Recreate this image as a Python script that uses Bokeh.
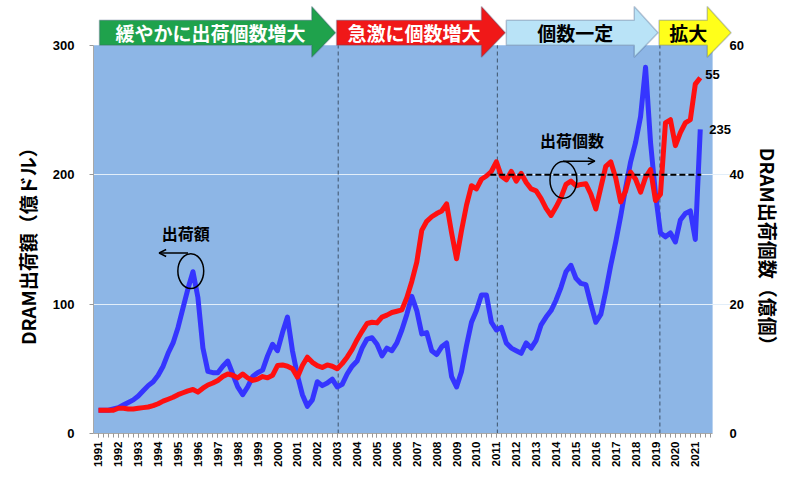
import math
from bokeh.plotting import figure
from bokeh.models import (Range1d, LinearAxis, FixedTicker, Label, Arrow, OpenHead,
                          PolyAnnotation, BoxAnnotation, ColumnDataSource)
from bokeh.embed import file_html
from bokeh.resources import INLINE

# ---------------- data ----------------
start_year = 1991
years = list(range(1991, 2022))

# DRAM出荷額 (億ドル), quarterly from 1991Q1
value_usd = [
    18, 18, 18, 19,      # 1991
    20, 22, 24, 26,      # 1992
    29, 33, 37, 40,      # 1993
    45, 52, 62, 70,      # 1994
    82, 97, 112, 125,    # 1995
    105, 66, 48, 47,     # 1996
    47, 52, 56, 46,      # 1997
    36, 30, 36, 44,      # 1998
    47, 49, 60, 69,      # 1999
    64, 78, 90, 64,      # 2000
    45, 30, 21, 26,      # 2001
    40, 37, 39, 42,      # 2002
    36, 38, 46, 52,      # 2003
    56, 66, 73, 74,      # 2004
    69, 60, 66, 64,      # 2005
    70, 80, 92, 106,     # 2006
    95, 77, 78, 64,      # 2007
    61, 67, 70, 44,      # 2008
    36, 48, 68, 86,      # 2009
    95, 107, 107, 86,    # 2010
    80, 82, 70, 66,      # 2011
    64, 62, 70, 66,      # 2012
    72, 84, 90, 95,      # 2013
    103, 113, 125, 130,  # 2014
    120, 116, 115, 100,  # 2015
    86, 92, 110, 130,    # 2016
    148, 168, 190, 210,  # 2017
    225, 245, 283, 225,  # 2018
    185, 155, 152, 155,  # 2019
    148, 165, 170, 172,  # 2020
    150, 235,            # 2021
]

# DRAM出荷個数 (億個), quarterly from 1991Q1
units = [
    3.6, 3.6, 3.6, 3.6,      # 1991
    3.9, 3.9, 3.8, 3.8,      # 1992
    3.9, 4.0, 4.1, 4.3,      # 1993
    4.6, 5.0, 5.3, 5.6,      # 1994
    6.0, 6.3, 6.6, 6.8,      # 1995
    6.4, 7.0, 7.5, 7.8,      # 1996
    8.2, 8.8, 9.2, 9.0,      # 1997
    8.6, 9.2, 8.6, 8.2,      # 1998
    8.4, 8.8, 8.6, 9.0,      # 1999
    10.5, 10.6, 10.4, 10.0,  # 2000
    8.7, 10.5, 11.8, 11.0,   # 2001
    10.5, 10.2, 10.6, 10.4,  # 2002
    10.0, 10.8, 11.8, 13.0,  # 2003
    14.5, 15.8, 17.0, 17.2,  # 2004
    17.1, 18.0, 18.3, 18.7,  # 2005
    18.9, 19.1, 21.0, 23.5,  # 2006
    26.5, 31.4, 32.8, 33.5,  # 2007
    34.0, 34.4, 35.5, 31.0,  # 2008
    27.0, 31.4, 35.3, 38.3,  # 2009
    37.8, 39.3, 39.8, 40.5,  # 2010
    42.0, 39.8, 39.2, 40.5,  # 2011
    39.0, 40.2, 38.8, 37.8,  # 2012
    37.5, 36.3, 34.8, 33.7,  # 2013
    35.0, 36.5, 38.5, 39.0,  # 2014
    38.3, 38.5, 38.6, 37.0,  # 2015
    34.7, 38.0, 41.3, 42.0,  # 2016
    39.5, 35.8, 37.5, 40.4,  # 2017
    39.3, 37.3, 39.6, 40.8,  # 2018
    36.0, 37.0, 48.0, 48.5,  # 2019
    44.5, 46.5, 48.0, 48.5,  # 2020
    54.0, 55.0,              # 2021
]

left_ticks = [0, 100, 200, 300]
right_ticks = [0, 20, 40, 60]
left_max, right_max = 300, 60

phase_names = ["緩やかに出荷個数増大", "急激に個数増大", "個数一定", "拡大"]
phase_start = [1991.05, 2002.97, 2011.50, 2019.18]
phase_tip = [2002.92, 2011.45, 2019.13, 2022.80]
phase_fill = ["#1FA24C", "#F01818", "#B9E3F7", "#FFFF1A"]
phase_text_color = ["white", "white", "black", "black"]
phase_dividers = [2003.05, 2011.05, 2019.22]
flat_level = 40  # 億個

# ---------------- figure ----------------
xq = [start_year + i / 4 for i in range(len(value_usd))]
src = ColumnDataSource(dict(x=xq, v=value_usd, u=units))

x_lo, x_blue_hi, x_hi = 1990.75, 2021.87, 2022.87
y_hi = 333.1
ratio = left_max / right_max

p = figure(width=784, height=470, output_backend="svg", toolbar_location=None,
           x_range=Range1d(x_lo, x_hi), y_range=Range1d(0, y_hi),
           min_border_left=93, min_border_right=47, min_border_top=2, min_border_bottom=35)
p.background_fill_color = "white"
p.border_fill_color = "white"
p.outline_line_color = None
p.extra_y_ranges = {"right": Range1d(0, y_hi / ratio)}

# blue plot area
p.add_layout(BoxAnnotation(left=x_lo, right=x_blue_hi, bottom=0, top=left_max,
                           fill_color="#8DB6E6", fill_alpha=1.0, line_color=None,
                           level="image"))

p.xgrid.visible = False
p.ygrid.ticker = FixedTicker(ticks=[100, 200])
p.ygrid.grid_line_color = "#E2EEF9"
p.ygrid.grid_line_width = 1

tick_font = "Liberation Sans"
SP = "\u3000"

# left axis
ya = p.yaxis[0]
ya.ticker = FixedTicker(ticks=left_ticks)
ya.bounds = (0, left_max)
ya.axis_label = "DRAM出荷額（億ドル）" + SP * 3
ya.axis_label_text_font = "Noto Sans CJK JP"
ya.axis_label_text_font_style = "bold"
ya.axis_label_text_font_size = "19px"
ya.axis_label_text_color = "black"
ya.axis_label_standoff = 9
ya.major_label_text_font = tick_font
ya.major_label_text_font_style = "bold"
ya.major_label_text_font_size = "13px"
ya.major_label_text_color = "black"
ya.major_label_standoff = 15
ya.major_tick_out = 4
ya.major_tick_in = 0
ya.minor_tick_out = 0
ya.minor_tick_in = 0
ya.major_tick_line_color = "#999999"
ya.axis_line_color = "#A8A8A8"

# right axis
ra = LinearAxis(y_range_name="right", ticker=FixedTicker(ticks=right_ticks))
ra.bounds = (0, right_max)
ra.axis_label = SP * 3 + "\u2002" + "DRAM出荷個数（億個）"
ra.axis_label_text_font = "Noto Sans CJK JP"
ra.axis_label_text_font_style = "bold"
ra.axis_label_text_font_size = "19px"
ra.axis_label_text_color = "black"
ra.axis_label_standoff = 8
ra.major_label_text_font = tick_font
ra.major_label_text_font_style = "bold"
ra.major_label_text_font_size = "13px"
ra.major_label_text_color = "black"
ra.major_label_standoff = -3
ra.major_tick_out = 0
ra.major_tick_in = 0
ra.minor_tick_out = 0
ra.minor_tick_in = 0
ra.axis_line_color = None
p.add_layout(ra, "right")

# bottom axis
xa = p.xaxis[0]
quarters = [y + q / 4 for y in years for q in range(4)]
xa.ticker = FixedTicker(ticks=years, minor_ticks=quarters)
xa.bounds = (x_lo, x_blue_hi)
xa.major_label_orientation = math.pi / 2
xa.major_label_text_font = tick_font
xa.major_label_text_font_style = "bold"
xa.major_label_text_font_size = "11.5px"
xa.major_label_text_color = "black"
xa.major_label_standoff = 4
xa.major_tick_out = 4
xa.major_tick_in = 0
xa.minor_tick_out = 4
xa.minor_tick_in = 0
xa.major_tick_line_color = "#999999"
xa.minor_tick_line_color = "#999999"
xa.axis_line_color = "#A8A8A8"

# phase dividers
p.segment(x0=phase_dividers, y0=[0] * len(phase_dividers), x1=phase_dividers,
          y1=[left_max] * len(phase_dividers), line_color="#3E536B", line_dash="4 3",
          line_width=1)

# data lines
p.line("x", "v", source=src, line_color="#3535FF", line_width=5, line_join="round")
p.line("x", "u", source=src, y_range_name="right", line_color="#FF1010", line_width=5,
       line_join="round")

# flat level dashed line
p.line(x=[2010.7, 2021.3], y=[flat_level, flat_level], y_range_name="right",
       line_color="black", line_width=2, line_dash="6 3")

# annotation ellipses + arrows + labels
p.ellipse(x=[1995.64, 2014.37], y=[125.5, 196.0], width=[1.3, 1.35], height=[27.0, 28.5],
          fill_color=None, line_color="black", line_width=1.5)
p.add_layout(Arrow(end=OpenHead(size=7, line_width=1.5, line_color="black"),
                   x_start=1995.5, y_start=139.5, x_end=1994.05, y_end=139.5,
                   line_width=1.5, line_color="black"))
p.add_layout(Arrow(end=OpenHead(size=7, line_width=1.5, line_color="black"),
                   x_start=2014.35, y_start=210.5, x_end=2015.95, y_end=210.5,
                   line_width=1.5, line_color="black"))
p.add_layout(Label(x=1995.39, y=155.0, text="出荷額", text_font="Noto Sans CJK JP",
                   text_font_style="bold", text_font_size="16px", text_align="center",
                   text_baseline="middle", text_color="black"))
p.add_layout(Label(x=2014.8, y=227.0, text="出荷個数", text_font="Noto Sans CJK JP",
                   text_font_style="bold", text_font_size="16px", text_align="center",
                   text_baseline="middle", text_color="black"))

# end labels
p.add_layout(Label(x=xq[-1], y=units[-1], y_range_name="right", text=f"{units[-1]:.0f}",
                   x_offset=5, y_offset=3, text_font=tick_font, text_font_style="bold",
                   text_font_size="13px", text_align="left", text_baseline="middle",
                   text_color="black"))
p.add_layout(Label(x=xq[-1], y=value_usd[-1], text=f"{value_usd[-1]:.0f}",
                   x_offset=9, y_offset=0, text_font=tick_font, text_font_style="bold",
                   text_font_size="13px", text_align="left", text_baseline="middle",
                   text_color="black"))

# phase banner arrows
rect_top, rect_bot = 319.3, 300.0
head_top, head_bot = 330.0, 290.8
mid = (rect_top + rect_bot) / 2
head_len = 1.2
for name, s, t, fc, tc in zip(phase_names, phase_start, phase_tip, phase_fill, phase_text_color):
    b = t - head_len
    p.add_layout(PolyAnnotation(xs=[s, s, b, b, t, b, b],
                                ys=[rect_bot, rect_top, rect_top, head_top, mid, head_bot, rect_bot],
                                fill_color=fc, fill_alpha=1.0, line_color="#3A5078",
                                line_width=1.5, level="overlay"))
    p.add_layout(Label(x=(s + b) / 2 + 0.25, y=mid, text=name, text_font="Noto Sans CJK JP",
                       text_font_style="bold", text_font_size="19px", text_align="center",
                       text_baseline="middle", text_color=tc, level="overlay"))

open("out.html", "w").write(file_html(p, INLINE))
